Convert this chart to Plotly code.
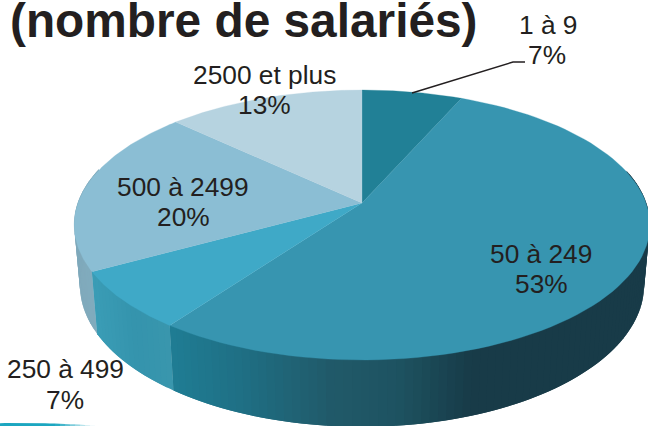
import numpy as np
import plotly.graph_objects as go

categories = ["1 à 9", "50 à 249", "250 à 499", "500 à 2499", "2500 et plus"]
values = [6.6, 53.4, 7, 20, 13]
top_colors = ["#218096", "#3795b0", "#3fa9c7", "#8bbed4", "#b6d3e0"]
title_text = "(nombre de salariés)"

W, H = 648, 426
CX, CY, RX, RY, K = 362, 203, 284, 131.4, 0.163
FONT = "Liberation Sans, Arial, sans-serif"
INK = "#231f20"


def top(theta):
    u, v = np.sin(theta), np.cos(theta)
    s = 1 / (1 + K * v)
    return CX + RX * u * s, CY - RY * v * s


def base(theta):
    x, y = top(theta)
    return CX + (x - CX) * 0.98, CY + (y - CY) * 1.05 + 59


def hex_rgb(c):
    return np.array([int(c[i:i + 2], 16) for i in (1, 3, 5)], float)


front_stops = [(172, "#1f7d94"), (240, "#1f7085"), (330, "#215a6a"), (400, "#1e5361"),
               (470, "#183c49"), (650, "#183b48")]
mid_stops = [(98, "#3a9cb5"), (135, "#3594ad"), (172, "#3a97ae")]
pale_stops = [(70, "#7fa9bb"), (100, "#82adbf")]
arc_stops = [(0, "#1ba6c0"), (55, "#1ba6c0"), (95, "#ffffff")]


def ramp(stops, x):
    xs = [p[0] for p in stops]
    rgb = [np.interp(x, xs, [hex_rgb(p[1])[i] for p in stops]) for i in range(3)]
    return "rgb(%d,%d,%d)" % tuple(rgb)


fig = go.Figure()


def poly(xs, ys, color, lw=0.0):
    fig.add_trace(go.Scatter(
        x=list(xs), y=list(ys), mode="lines", fill="toself", fillcolor=color,
        line=dict(color=color, width=lw), hoverinfo="skip", showlegend=False))


bounds = np.cumsum([0] + values) / sum(values) * 2 * np.pi
wall_stops = [None, front_stops, mid_stops, pale_stops, None]
for i in (3, 2, 1):
    a0, a1 = bounds[i], bounds[i + 1]
    if i == 1:
        a0 = np.pi / 2 - 0.25
    if i == 3:
        a1 = np.deg2rad(285)
    steps = np.linspace(a0, a1, int(np.degrees(a1 - a0) / 1.5) + 2)
    # every strip reaches over the next one so that no seams show
    for j in range(len(steps) - 1):
        t0, t1 = steps[j], steps[min(j + 2, len(steps) - 1)]
        mid = np.linspace(t0, t1, 5)
        tx, ty = top(mid)
        bx, by = base(mid)
        col = ramp(wall_stops[i], top((steps[j] + steps[j + 1]) / 2)[0])
        poly([*tx, *bx[::-1], tx[0]], [*(ty - 1), *by[::-1], ty[0] - 1], col)

for i in range(len(values)):
    th = np.linspace(bounds[i], bounds[i + 1], 90)
    ex, ey = top(th)
    poly([CX, *ex, CX], [CY, *ey, CY], top_colors[i], 0.3)

# decorative arc cut by the bottom edge, fading out to the right
edges = np.arange(55, 100, 5)
ax = np.linspace(-40, 55, 20)
ay = 423 + 0.00045 * ((ax - 20) ** 2)
poly([*ax, 55, -40], [*ay, 430, 430], "#1ba6c0")
for x0, x1 in zip(edges[:-1], edges[1:]):
    y0, y1 = 423 + 0.00045 * (x0 - 20) ** 2, 423 + 0.00045 * (x1 - 20) ** 2
    poly([x0, x1, x1, x0], [y0, y1, 430, 430], ramp(arc_stops, (x0 + x1) / 2))

# leader line of the first slice
fig.add_trace(go.Scatter(x=[412, 513, 525], y=[93, 62, 62], mode="lines",
                         line=dict(color=INK, width=1.5), hoverinfo="skip", showlegend=False))

labels = [(548, 25, 547, 55), (541, 254, 541, 284), (65, 369, 65, 400),
          (183, 187, 183, 217), (264, 75, 264, 105)]
ann = []
for cat, val, (x1, y1, x2, y2) in zip(categories, values, labels):
    ann.append(dict(x=x1, y=y1, text=cat))
    ann.append(dict(x=x2, y=y2, text=f"{val:.0f}%"))
for a in ann:
    a.update(xref="x", yref="y", showarrow=False, xanchor="center", yanchor="middle",
             font=dict(family=FONT, size=26.3, color=INK))
ann.append(dict(x=8, y=20.5, xref="x", yref="y", showarrow=False, xanchor="left", yanchor="middle",
                text=f"<b>{title_text}</b>", font=dict(family=FONT, size=47.8, color=INK)))

fig.update_layout(
    width=W, height=H, margin=dict(l=0, r=0, t=0, b=0),
    paper_bgcolor="white", plot_bgcolor="white", annotations=ann, showlegend=False,
    xaxis=dict(range=[0, W], visible=False, fixedrange=True),
    yaxis=dict(range=[H, 0], visible=False, fixedrange=True),
)
fig.write_html("out.html", config={"displayModeBar": False},
               post_script="document.body.style.margin='0';document.body.style.overflow='hidden';")
